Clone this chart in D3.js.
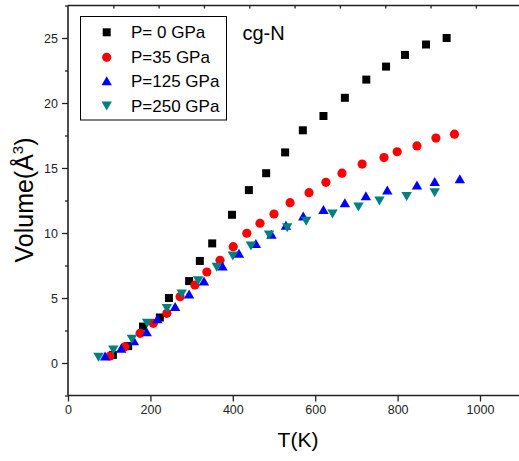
<!DOCTYPE html>
<html>
<head>
<meta charset="utf-8">
<script src="https://cdn.jsdelivr.net/npm/d3@7"></script>
<style>
  body { margin: 0; background: #fff; }
  svg { display: block; font-family: "Liberation Sans", Arial, sans-serif; }
</style>
</head>
<body>
<div id="chart"></div>
<script>
// temperature (K) and volume change (A^3)
var t0 = [109, 146, 182, 223, 245, 294, 320, 350, 398, 439, 481, 527, 570, 620, 672, 724, 772, 818, 869, 919];
var v0 = [0.62, 1.3, 2.8, 3.5, 5.0, 6.3, 7.85, 9.2, 11.4, 13.3, 14.6, 16.2, 17.9, 19.0, 20.4, 21.8, 22.8, 23.7, 24.5, 25.0];

var t35 = [102, 138, 175, 207, 240, 272, 308, 337, 369, 401, 434, 466, 500, 539, 585, 626, 665, 714, 767, 799, 847, 893, 938];
var v35 = [0.54, 1.25, 2.28, 3.05, 3.82, 5.1, 6.0, 7.0, 7.9, 8.95, 9.98, 10.75, 11.46, 12.33, 13.1, 13.9, 14.6, 15.3, 15.8, 16.25, 16.7, 17.3, 17.6];

var t125 = [90, 129, 160, 191, 217, 260, 294, 330, 375, 415, 456, 494, 529, 571, 620, 672, 723, 775, 847, 890, 951];
var v125 = [0.54, 1.13, 1.72, 2.4, 3.4, 4.35, 5.3, 6.3, 7.46, 8.44, 9.2, 9.9, 10.6, 11.3, 11.8, 12.33, 12.87, 13.3, 13.7, 13.96, 14.18];

var t250 = [74, 110, 155, 192, 240, 276, 316, 361, 400, 444, 488, 532, 578, 642, 705, 756, 822, 890];
var v250 = [0.44, 1.0, 1.82, 3.05, 4.2, 5.3, 6.33, 7.36, 8.23, 9.0, 9.85, 10.4, 10.9, 11.46, 12.0, 12.46, 12.8, 13.1];

var seriesNames = ["P= 0 GPa", "P=35 GPa", "P=125 GPa", "P=250 GPa"];
var xTicks = [0, 200, 400, 600, 800, 1000];
var yTicks = [0, 5, 10, 15, 20, 25];

var width = 519, height = 461;
var colors = ["#000000", "#ff0000", "#0000ff", "#008080"];
var shapes = ["square", "circle", "up", "down"];

var svg = d3.select("#chart").append("svg")
    .attr("width", width)
    .attr("height", height);

var x = d3.scaleLinear().domain([0, 1100]).range([68, 521.2]);
var y = d3.scaleLinear().domain([-2.5, 27.5]).range([395.5, 5.5]);

// marker paths, centred on their bounding box
function marker(shape) {
    if (shape == "square") return "M-4,-4H4V4H-4Z";
    if (shape == "circle") return d3.symbol(d3.symbolCircle, Math.PI * 4.6 * 4.6)();
    if (shape == "up") return "M0,-4.5L5.2,4.5L-5.2,4.5Z";
    return "M0,4.5L5.2,-4.5L-5.2,-4.5Z";
}

// axes
var axisColor = "#222";
var bottomAxis = svg.append("g").attr("transform", "translate(0," + y(-2.5) + ")");
bottomAxis.call(d3.axisBottom(x).tickValues(d3.range(100, 1100, 200)).tickSize(3).tickFormat(""));
bottomAxis.call(d3.axisBottom(x).tickValues(xTicks).tickSize(6).tickPadding(4).tickFormat(d3.format("d")));
svg.append("g").attr("transform", "translate(" + x(0) + ",0)")
    .call(d3.axisLeft(y).tickValues(d3.range(-2.5, 27.6, 5)).tickSize(3).tickFormat(""));
svg.append("g").attr("transform", "translate(" + x(0) + ",0)")
    .call(d3.axisLeft(y).tickValues(yTicks).tickSize(6).tickPadding(4).tickFormat(d3.format("d")));
var topAxis = svg.append("g").attr("transform", "translate(0," + y(27.5) + ")");
topAxis.call(d3.axisBottom(x).tickValues(d3.range(110, 1100, 110)).tickSize(3).tickFormat(""));

svg.selectAll(".domain").remove();
svg.selectAll(".tick line").attr("stroke", axisColor).attr("stroke-width", 1.3);
svg.selectAll(".tick text").attr("fill", "#222").style("font-size", "12.5px")
    .style("font-family", "'Liberation Sans', Arial, sans-serif");

// frame lines
svg.append("line").attr("x1", x(0)).attr("x2", width).attr("y1", y(-2.5)).attr("y2", y(-2.5))
    .attr("stroke", axisColor).attr("stroke-width", 1.6);
svg.append("line").attr("x1", x(0)).attr("x2", width).attr("y1", y(27.5)).attr("y2", y(27.5))
    .attr("stroke", axisColor).attr("stroke-width", 1.6);
svg.append("line").attr("x1", x(0)).attr("x2", x(0)).attr("y1", y(27.5)).attr("y2", y(-2.5))
    .attr("stroke", axisColor).attr("stroke-width", 1.6);

// data
var allT = [t0, t35, t125, t250];
var allV = [v0, v35, v125, v250];
allT.forEach(function (ts, i) {
    var pts = ts.map(function (t, j) { return { t: t, v: allV[i][j] }; });
    svg.append("g").selectAll("path").data(pts).enter()
        .append("path")
        .attr("d", marker(shapes[i]))
        .attr("transform", function (d) { return "translate(" + x(d.t) + "," + y(d.v) + ")"; })
        .attr("fill", colors[i]);
});

// legend
var legend = svg.append("g");
legend.append("rect")
    .attr("x", 80.5).attr("y", 16.5).attr("width", 146).attr("height", 103.5)
    .attr("fill", "#fff").attr("stroke", "#000").attr("stroke-width", 1);
seriesNames.forEach(function (name, i) {
    var ly = [32.3, 57.3, 80.7, 106][i];
    legend.append("path").attr("d", marker(shapes[i]))
        .attr("transform", "translate(106.7," + ly + ")")
        .attr("fill", colors[i]);
    legend.append("text").attr("x", 131).attr("y", ly + 6)
        .style("font-size", "17px").attr("fill", "#000").text(name);
});

svg.append("text").attr("x", 242.5).attr("y", 40)
    .style("font-size", "20px").text("cg-N");

// axis titles
svg.append("text").attr("x", 298).attr("y", 447).attr("text-anchor", "middle")
    .style("font-size", "21px").text("T(K)");

var yl = svg.append("text").attr("transform", "translate(33,200) rotate(-90)")
    .attr("text-anchor", "middle").style("font-size", "25px");
yl.append("tspan").text("Volume(Å");
yl.append("tspan").attr("dy", -10).style("font-size", "15px").text("3");
yl.append("tspan").attr("dy", 10).text(")");
</script>
</body>
</html>
